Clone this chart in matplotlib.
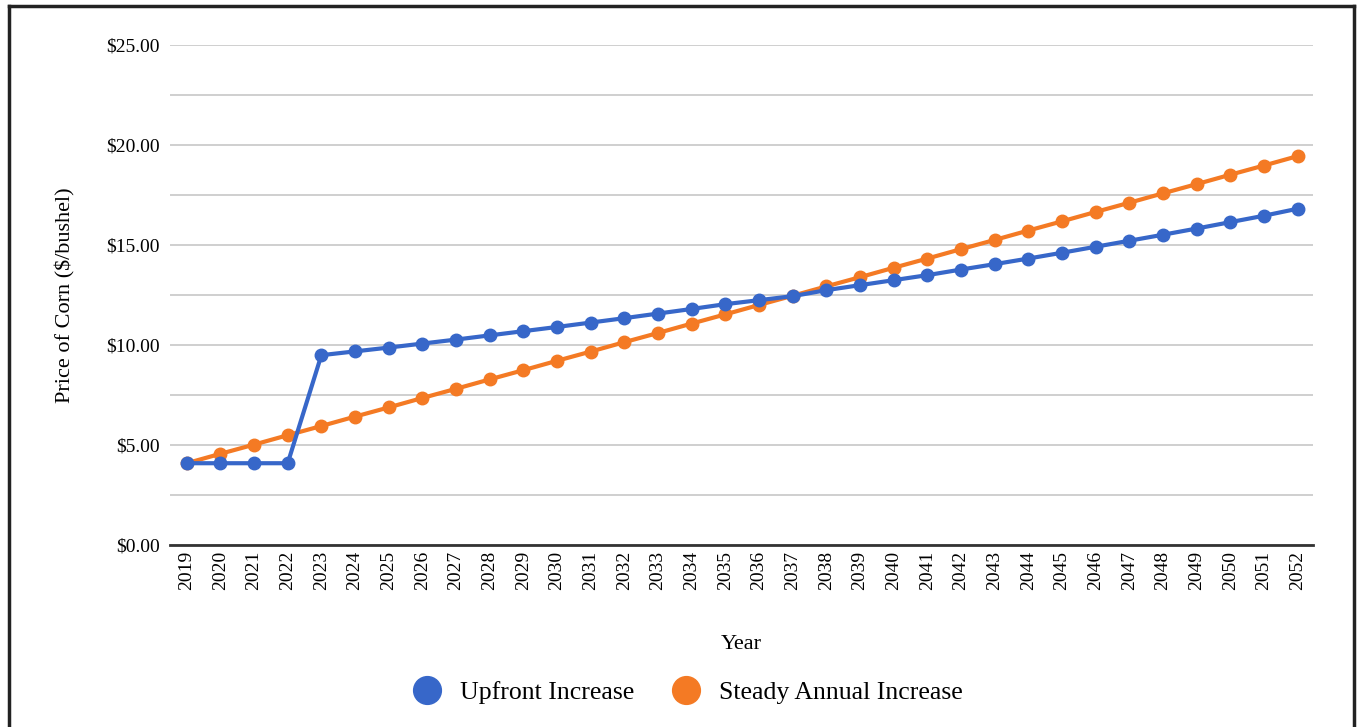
import matplotlib.pyplot as plt
from matplotlib.lines import Line2D
from matplotlib.ticker import MultipleLocator, FuncFormatter

years = [str(y) for y in range(2019, 2053)]

upfront = [4.10, 4.10, 4.10, 4.10, 9.50, 9.69, 9.88, 10.08, 10.28, 10.49,
           10.70, 10.91, 11.13, 11.35, 11.58, 11.81, 12.05, 12.25, 12.45, 12.75,
           13.00, 13.25, 13.50, 13.78, 14.05, 14.33, 14.62, 14.92, 15.22, 15.52,
           15.83, 16.15, 16.47, 16.82]

steady = [4.10, 4.57, 5.03, 5.50, 5.96, 6.43, 6.89, 7.36, 7.82, 8.29,
          8.75, 9.22, 9.68, 10.15, 10.61, 11.08, 11.54, 12.01, 12.47, 12.94,
          13.40, 13.87, 14.33, 14.80, 15.26, 15.73, 16.19, 16.66, 17.12, 17.59,
          18.05, 18.52, 18.98, 19.45]

blue = '#3767c9'
orange = '#f47a24'

plt.rcParams['font.family'] = ['Liberation Serif', 'DejaVu Serif']

fig = plt.figure(figsize=(13.59, 7.27), dpi=100)
ax = fig.add_axes([0.125, 0.250, 0.841, 0.688])

x = range(len(years))
ax.plot(x, steady, color=orange, lw=3, marker='o', ms=9, zorder=3)
ax.plot(x, upfront, color=blue, lw=3, marker='o', ms=9, zorder=4)

ax.set_xlim(-0.5, len(years) - 0.55)
ax.set_ylim(0, 25)
ax.yaxis.set_major_locator(MultipleLocator(5))
ax.yaxis.set_minor_locator(MultipleLocator(2.5))
ax.yaxis.set_major_formatter(FuncFormatter(lambda v, p: f'${v:.2f}'))
ax.grid(axis='y', which='both', color='#cccccc', lw=1.3)
ax.set_axisbelow(True)
ax.tick_params(axis='y', which='both', length=0, labelsize=14, pad=7)

ax.set_xticks(list(x))
ax.set_xticklabels(years, rotation=90, fontsize=14)
ax.tick_params(axis='x', length=0, pad=4)

for s in ['top', 'right', 'left']:
    ax.spines[s].set_visible(False)
ax.spines['bottom'].set_color('#333333')
ax.spines['bottom'].set_linewidth(2)
ax.spines['bottom'].set_zorder(5)

ax.set_xlabel('Year', fontsize=16, labelpad=32)
ax.set_ylabel('Price of Corn ($/bushel)', fontsize=16, labelpad=22)

handles = [Line2D([], [], ls='', marker='o', ms=20, color=blue),
           Line2D([], [], ls='', marker='o', ms=20, color=orange)]
fig.legend(handles, ['Upfront Increase', 'Steady Annual Increase'],
           loc='center', bbox_to_anchor=(0.502, 0.047), ncol=2, frameon=False,
           fontsize=18.5, handletextpad=0.3, columnspacing=1.0)

# frame around the figure (open at the bottom)
for xs, ys in [((0.0066, 0.0066), (0.0, 0.992)),
               ((0.9963, 0.9963), (0.0, 0.992)),
               ((0.0066, 0.9963), (0.992, 0.992))]:
    fig.add_artist(Line2D(xs, ys, color='#222222', lw=2.5,
                          transform=fig.transFigure))

fig.savefig('out.png', dpi=100)
